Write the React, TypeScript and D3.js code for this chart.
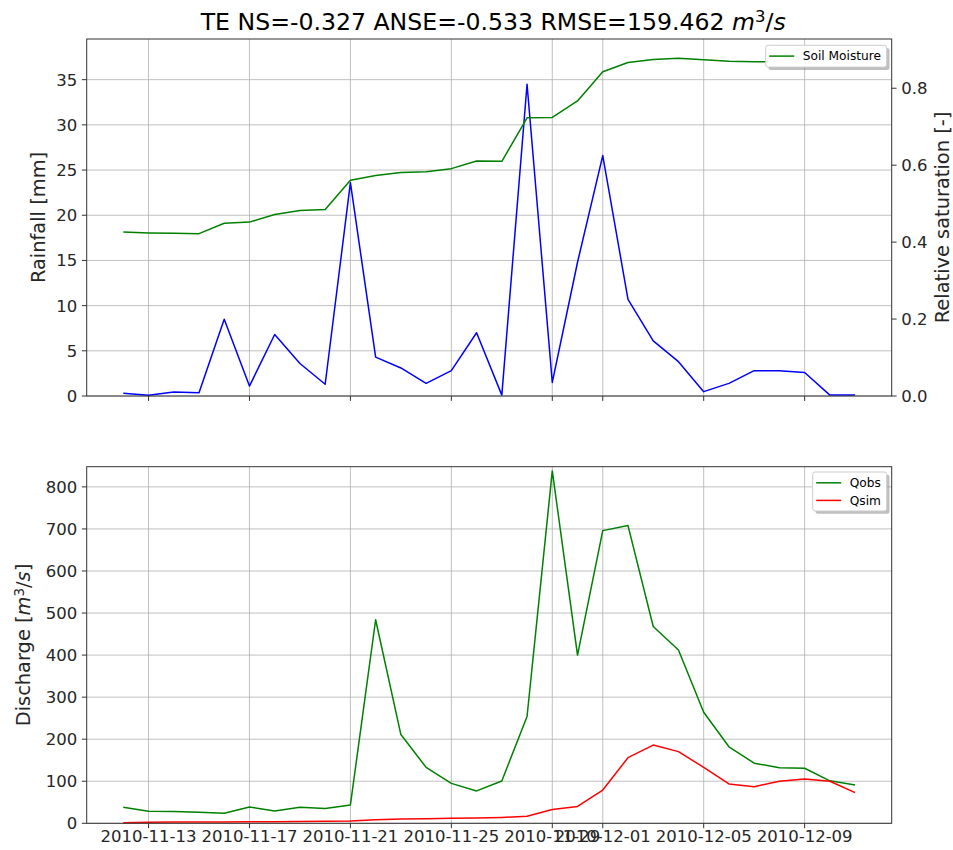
import { useEffect, useRef } from "react";
import * as d3 from "d3";

// daily series, 2010-11-12 .. 2010-12-11
const dates = [
  "2010-11-12", "2010-11-13", "2010-11-14", "2010-11-15", "2010-11-16",
  "2010-11-17", "2010-11-18", "2010-11-19", "2010-11-20", "2010-11-21",
  "2010-11-22", "2010-11-23", "2010-11-24", "2010-11-25", "2010-11-26",
  "2010-11-27", "2010-11-28", "2010-11-29", "2010-11-30", "2010-12-01",
  "2010-12-02", "2010-12-03", "2010-12-04", "2010-12-05", "2010-12-06",
  "2010-12-07", "2010-12-08", "2010-12-09", "2010-12-10", "2010-12-11",
];

const rainfall = [
  0.3, 0.07, 0.45, 0.37, 8.5, 1.1, 6.8, 3.6, 1.3, 23.6,
  4.3, 3.1, 1.4, 2.8, 7.0, 0.1, 34.5, 1.5, 14.8, 26.6,
  10.7, 6.1, 3.8, 0.48, 1.4, 2.8, 2.8, 2.6, 0.1, 0.1,
];

const soilMoisture = [
  0.426, 0.424, 0.423, 0.422, 0.449, 0.452, 0.472, 0.482, 0.485, 0.561,
  0.573, 0.581, 0.583, 0.591, 0.611, 0.61, 0.723, 0.724, 0.767, 0.843,
  0.867, 0.875, 0.878, 0.874, 0.87, 0.869, 0.868, 0.867, 0.866, 0.865,
];

const qobs = [
  38, 28.5, 28, 26, 24, 39, 29, 38, 35, 43.6,
  484, 211, 133, 95, 77, 100.7, 254, 838, 400, 696,
  708, 468, 412, 264, 182, 143, 132, 131, 101, 91,
];

const qsim = [
  1.6, 2.5, 2.8, 3, 3.2, 3.5, 3.8, 4.2, 4.8, 5.5,
  8.7, 10, 11, 12, 12.5, 14, 16.6, 33, 40, 79,
  156, 186, 170.5, 133, 93.6, 87, 100, 105.5, 100, 73,
];

const xTicks = [
  "2010-11-13", "2010-11-17", "2010-11-21", "2010-11-25",
  "2010-11-29", "2010-12-01", "2010-12-05", "2010-12-09",
];
const rainTicks = [0, 5, 10, 15, 20, 25, 30, 35];
const satTicks = [0.0, 0.2, 0.4, 0.6, 0.8];
const qTicks = [0, 100, 200, 300, 400, 500, 600, 700, 800];

const FONT = "DejaVu Sans, sans-serif";
const GRID = "#b0b0b0";
const SPINE = "#333333";

export default function App() {
  const svgRef = useRef<SVGSVGElement>(null);

  useEffect(() => {
    if (!svgRef.current) return;
    const svg = d3.select(svgRef.current);
    svg.selectAll("*").remove();

    const parse = d3.utcParse("%Y-%m-%d");
    const t = dates.map((d) => parse(d) as Date);
    const day = 864e5;
    const left = 86.7;
    const right = 891.7;
    const top1 = 39;
    const bot1 = 396;
    const top2 = 466.7;
    const bot2 = 823.3;

    const x = d3
      .scaleUtc()
      .domain([
        new Date(+t[0] - 1.45 * day),
        new Date(+t[t.length - 1] + 1.45 * day),
      ])
      .range([left, right]);

    const yRain = d3.scaleLinear().domain([0, 39.5]).range([bot1, top1]);
    const ySat = d3.scaleLinear().domain([0, 0.928]).range([bot1, top1]);
    const yQ = d3.scaleLinear().domain([0, 848]).range([bot2, top2]);

    const tickDates = xTicks.map((d) => parse(d) as Date);

    const drawGrid = (ys: number[], yScale: d3.ScaleLinear<number, number>, top: number, bot: number) => {
      const g = svg.append("g");
      tickDates.forEach((d) => {
        g.append("line")
          .attr("x1", x(d)).attr("x2", x(d))
          .attr("y1", top).attr("y2", bot)
          .attr("stroke", GRID).attr("stroke-width", 0.8);
      });
      ys.forEach((v) => {
        g.append("line")
          .attr("x1", left).attr("x2", right)
          .attr("y1", yScale(v)).attr("y2", yScale(v))
          .attr("stroke", GRID).attr("stroke-width", 0.8);
      });
    };

    drawGrid(rainTicks, yRain, top1, bot1);
    drawGrid(qTicks, yQ, top2, bot2);

    const line = (vals: number[], yScale: d3.ScaleLinear<number, number>) =>
      d3
        .line<number>()
        .x((_, i) => x(t[i]))
        .y((v) => yScale(v))(vals);

    const addLine = (vals: number[], yScale: d3.ScaleLinear<number, number>, color: string) =>
      svg.append("path")
        .attr("d", line(vals, yScale))
        .attr("fill", "none")
        .attr("stroke", color)
        .attr("stroke-width", 1.5)
        .attr("stroke-linejoin", "round");

    addLine(rainfall, yRain, "#0000ff");
    addLine(soilMoisture, ySat, "#008000");
    addLine(qobs, yQ, "#008000");
    addLine(qsim, yQ, "#ff0000");

    // frames
    [[top1, bot1], [top2, bot2]].forEach(([a, b]) => {
      svg.append("rect")
        .attr("x", left).attr("y", a)
        .attr("width", right - left).attr("height", b - a)
        .attr("fill", "none").attr("stroke", SPINE).attr("stroke-width", 1);
    });

    // y axes
    const yAxis = (
      ticks: number[],
      yScale: d3.ScaleLinear<number, number>,
      xPos: number,
      side: "left" | "right",
      fmt: (v: number) => string
    ) => {
      const g = svg.append("g").attr("font-family", FONT).attr("font-size", 16.5).attr("fill", "#262626");
      ticks.forEach((v) => {
        const yy = yScale(v);
        const dir = side === "left" ? -1 : 1;
        g.append("line")
          .attr("x1", xPos).attr("x2", xPos + dir * 4.9)
          .attr("y1", yy).attr("y2", yy)
          .attr("stroke", SPINE).attr("stroke-width", 1);
        g.append("text")
          .attr("x", xPos + dir * 9.5)
          .attr("y", yy)
          .attr("dy", "0.36em")
          .attr("text-anchor", side === "left" ? "end" : "start")
          .text(fmt(v));
      });
    };

    yAxis(rainTicks, yRain, left, "left", (v) => String(v));
    yAxis(satTicks, ySat, right, "right", (v) => v.toFixed(1));
    yAxis(qTicks, yQ, left, "left", (v) => String(v));

    // x ticks (labels only on the lower panel, shared axis)
    [bot1, bot2].forEach((b, k) => {
      const g = svg.append("g").attr("font-family", FONT).attr("font-size", 16.5).attr("fill", "#262626");
      tickDates.forEach((d, i) => {
        g.append("line")
          .attr("x1", x(d)).attr("x2", x(d))
          .attr("y1", b).attr("y2", b + 4.9)
          .attr("stroke", SPINE).attr("stroke-width", 1);
        if (k === 1) {
          g.append("text")
            .attr("x", x(d)).attr("y", b + 19)
            .attr("text-anchor", "middle")
            .text(xTicks[i]);
        }
      });
    });

    // axis labels
    const ylabel = (cx: number, cy: number) =>
      svg.append("text")
        .attr("transform", `translate(${cx},${cy}) rotate(-90)`)
        .attr("text-anchor", "middle")
        .attr("dy", "0.35em")
        .attr("font-family", FONT)
        .attr("font-size", 19.4)
        .attr("fill", "#262626");

    ylabel(38, (top1 + bot1) / 2).text("Rainfall [mm]");
    ylabel(942, (top1 + bot1) / 2).text("Relative saturation [-]");
    const dl = ylabel(23, (top2 + bot2) / 2);
    dl.append("tspan").text("Discharge [");
    dl.append("tspan").attr("font-style", "italic").text("m");
    dl.append("tspan").attr("font-size", 13.5).attr("dy", "-0.45em").text("3");
    dl.append("tspan").attr("dy", "0.3em").text("/");
    dl.append("tspan").attr("font-style", "italic").text("s");
    dl.append("tspan").text("]");

    // title
    const title = svg.append("text")
      .attr("x", (left + right) / 2 + 4)
      .attr("y", 30)
      .attr("text-anchor", "middle")
      .attr("font-family", FONT)
      .attr("font-size", 23.6)
      .attr("fill", "#000");
    title.append("tspan").text("TE NS=-0.327 ANSE=-0.533 RMSE=159.462 ");
    title.append("tspan").attr("font-style", "italic").text("m");
    title.append("tspan").attr("font-size", 16.5).attr("dy", "-0.5em").text("3");
    title.append("tspan").attr("dy", "0.34em").text("/");
    title.append("tspan").attr("font-style", "italic").text("s");

    // legends
    const legend = (
      x0: number, y0: number, w: number, h: number,
      items: { label: string; color: string }[]
    ) => {
      const g = svg.append("g");
      g.append("rect")
        .attr("x", x0 + 2.8).attr("y", y0 + 2.8)
        .attr("width", w).attr("height", h)
        .attr("rx", 2.5)
        .attr("fill", "#808080").attr("opacity", 0.5);
      g.append("rect")
        .attr("x", x0).attr("y", y0)
        .attr("width", w).attr("height", h)
        .attr("rx", 2.5)
        .attr("fill", "#fff").attr("stroke", "#cccccc").attr("stroke-width", 1);
      items.forEach((it, i) => {
        const yy = y0 + 10.8 + i * 17.6;
        g.append("line")
          .attr("x1", x0 + 3.5).attr("x2", x0 + 28.5)
          .attr("y1", yy).attr("y2", yy)
          .attr("stroke", it.color).attr("stroke-width", 1.5);
        g.append("text")
          .attr("x", x0 + 37).attr("y", yy)
          .attr("dy", "0.36em")
          .attr("font-family", FONT).attr("font-size", 12.2)
          .attr("fill", "#000")
          .text(it.label);
      });
    };

    legend(765.7, 45.3, 121, 21.8, [{ label: "Soil Moisture", color: "#008000" }]);
    legend(812.7, 472, 74, 39, [
      { label: "Qobs", color: "#008000" },
      { label: "Qsim", color: "#ff0000" },
    ]);
  }, []);

  return (
    <svg
      ref={svgRef}
      width={953}
      height={850}
      style={{ position: "absolute", left: 0, top: 0, background: "#fff" }}
    />
  );
}
